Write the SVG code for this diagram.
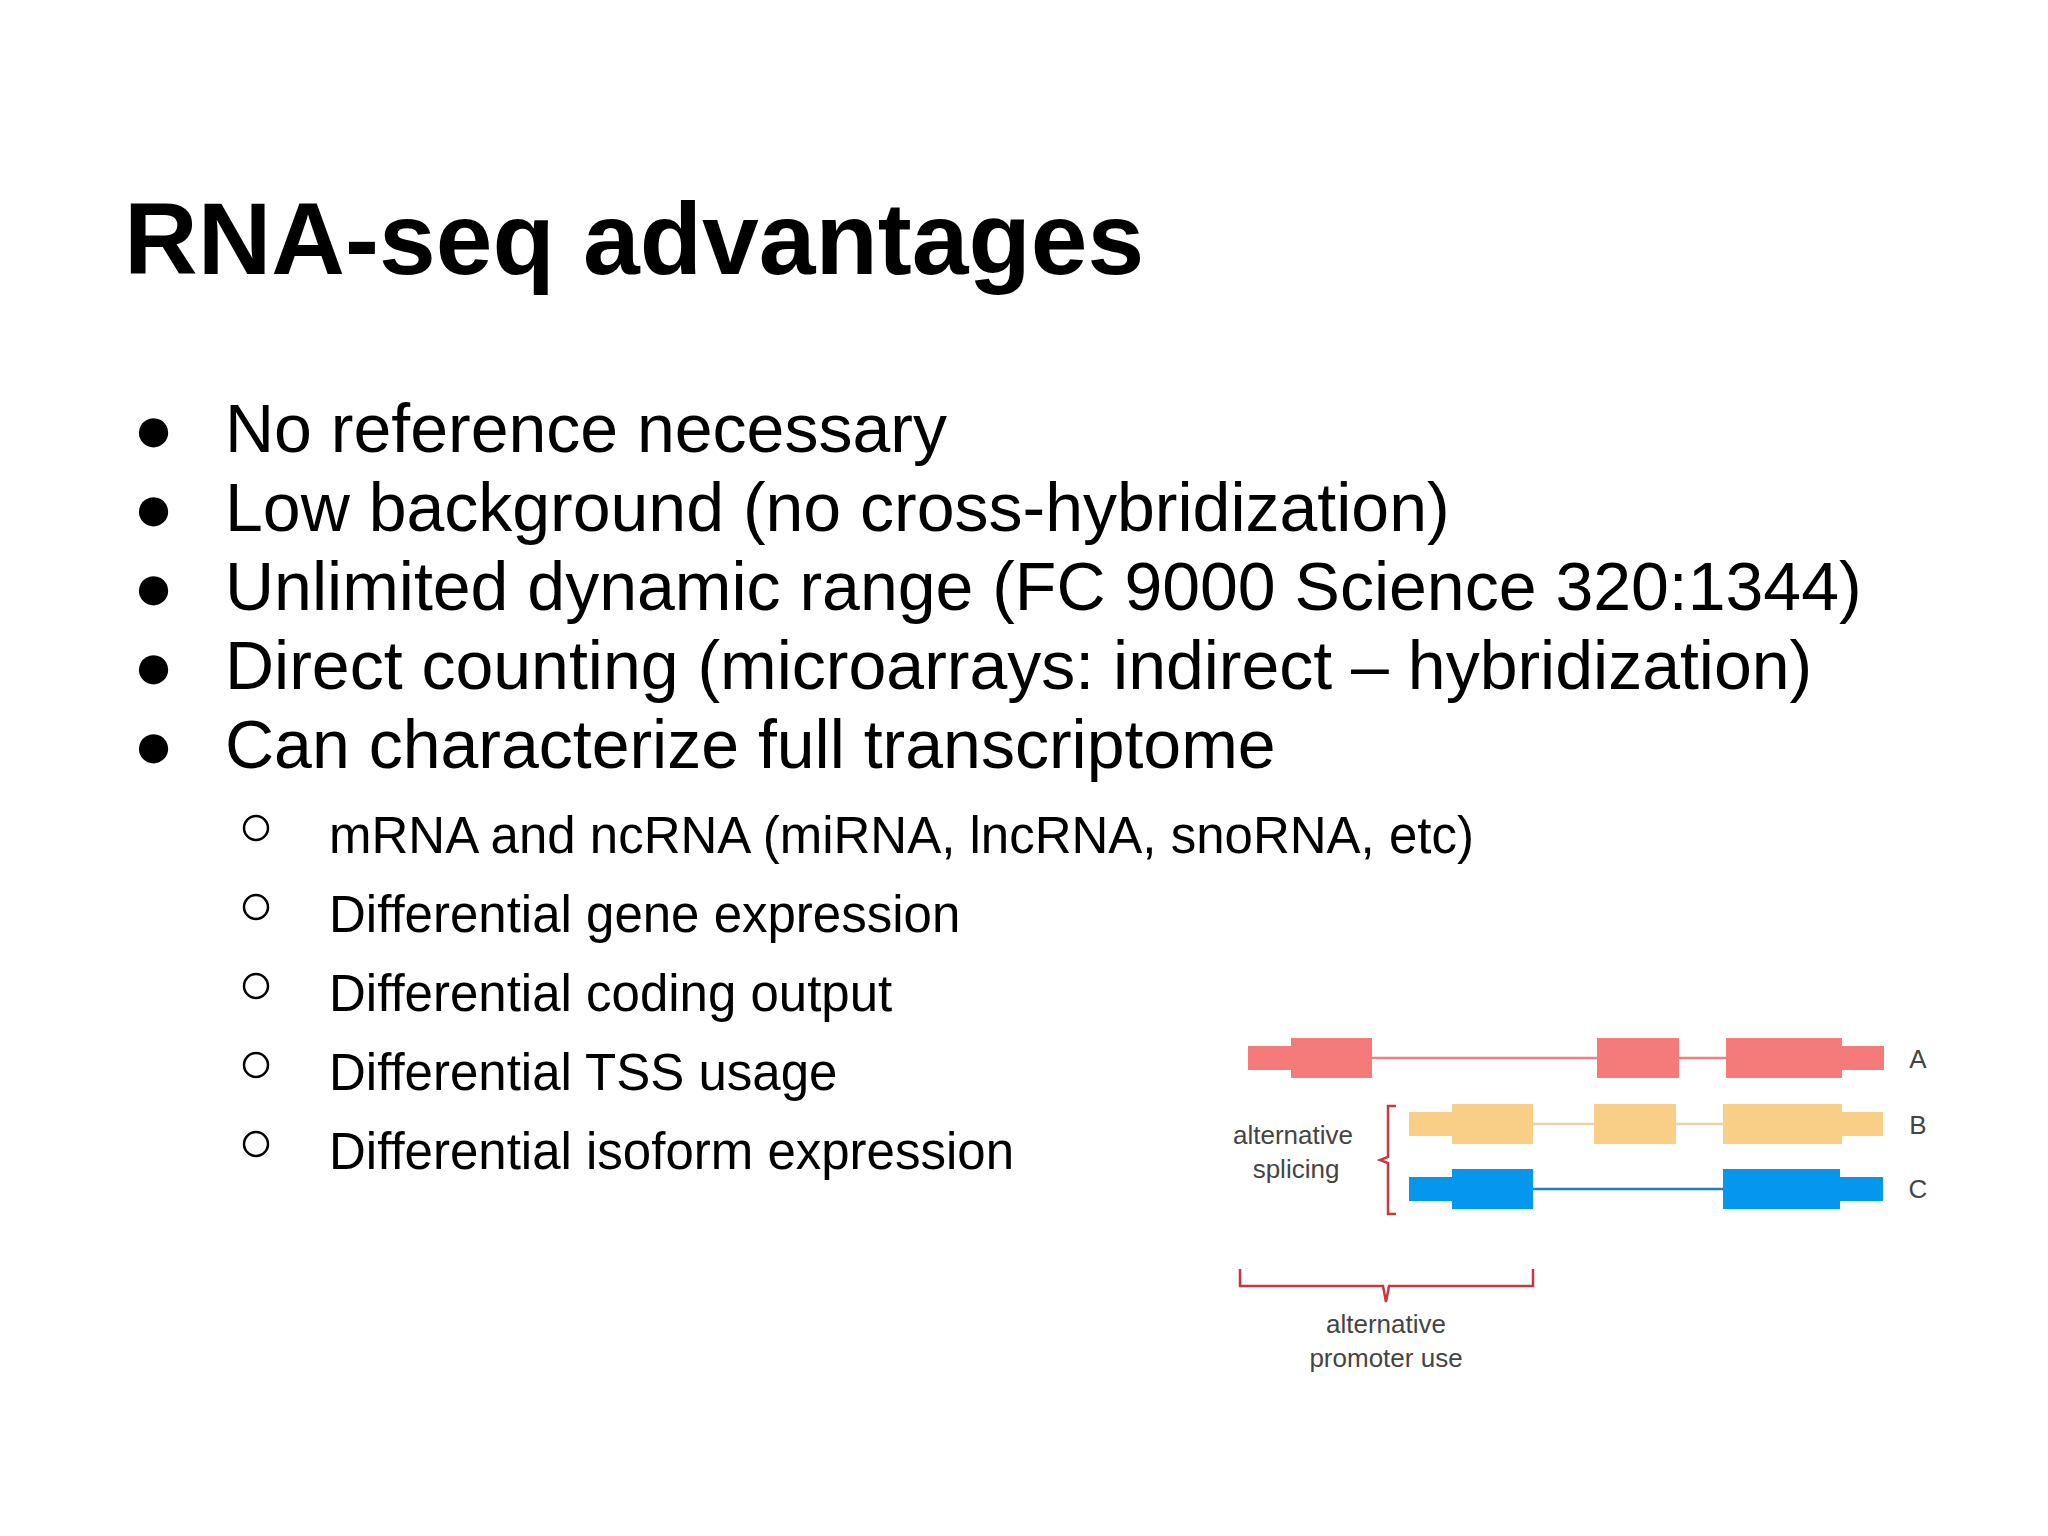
<svg xmlns="http://www.w3.org/2000/svg" width="2048" height="1536" viewBox="0 0 2048 1536">
<style>
.t{font-family:"Liberation Sans",Arial,sans-serif;fill:#000}
.b{font-size:68px}
.s{font-size:51px}
.d{font-family:"Liberation Sans",Arial,sans-serif;fill:#444;font-size:26px;text-anchor:middle}
.br{fill:none;stroke:#c8383c;stroke-width:2.5}
</style>
<rect width="2048" height="1536" fill="#fff"/>
<text class="t" x="124" y="274" font-size="102" font-weight="bold">RNA-seq advantages</text>
<g class="t b">
<text x="133" y="452">●</text><text x="225" y="452">No reference necessary</text>
<text x="133" y="531">●</text><text x="225" y="531">Low background (no cross-hybridization)</text>
<text x="133" y="610">●</text><text x="225" y="610">Unlimited dynamic range (FC 9000 Science 320:1344)</text>
<text x="133" y="689">●</text><text x="225" y="689">Direct counting (microarrays: indirect – hybridization)</text>
<text x="133" y="768">●</text><text x="225" y="768">Can characterize full transcriptome</text>
</g>
<g fill="none" stroke="#000" stroke-width="2.5">
<circle cx="256" cy="828" r="12"/><circle cx="256" cy="907" r="12"/><circle cx="256" cy="986" r="12"/><circle cx="256" cy="1065" r="12"/><circle cx="256" cy="1144" r="12"/>
</g>
<g class="t s">
<text x="329" y="853">mRNA and ncRNA (miRNA, lncRNA, snoRNA, etc)</text>
<text x="329" y="932">Differential gene expression</text>
<text x="329" y="1011">Differential coding output</text>
<text x="329" y="1090">Differential TSS usage</text>
<text x="329" y="1169">Differential isoform expression</text>
</g>
<g id="isoformA" fill="#f57a7a">
<line x1="1370" y1="1058" x2="1730" y2="1058" stroke="#f08080" stroke-width="2.5"/>
<rect x="1248" y="1046" width="45" height="24"/><rect x="1291" y="1038" width="81" height="40"/>
<rect x="1597" y="1038" width="82" height="40"/><rect x="1726" y="1038" width="116" height="40"/>
<rect x="1840" y="1046" width="44" height="24"/>
<text class="d" x="1918" y="1068">A</text>
</g>
<g id="isoformB" fill="#f9cf87">
<line x1="1530" y1="1124" x2="1725" y2="1124" stroke="#e8d2a8" stroke-width="2.5"/>
<rect x="1409" y="1112" width="45" height="24"/><rect x="1452" y="1104" width="81" height="40"/>
<rect x="1594" y="1104" width="82" height="40"/><rect x="1723" y="1104" width="119" height="40"/>
<rect x="1840" y="1112" width="43" height="24"/>
<text class="d" x="1918" y="1134">B</text>
</g>
<g id="isoformC" fill="#0596ee">
<line x1="1530" y1="1189" x2="1725" y2="1189" stroke="#1a7fd0" stroke-width="2.5"/>
<rect x="1409" y="1177" width="45" height="24"/><rect x="1452" y="1169" width="81" height="40"/>
<rect x="1723" y="1169" width="117" height="40"/><rect x="1838" y="1177" width="45" height="24"/>
<text class="d" x="1918" y="1198">C</text>
</g>
<g id="splicing">
<path class="br" d="M1396 1106 H1388 V1157 L1380 1160 L1388 1163 V1214 H1396"/>
<text class="d" x="1293" y="1144">alternative</text>
<text class="d" x="1296" y="1178">splicing</text>
</g>
<g id="promoter">
<path class="br" d="M1240 1269 V1286 H1383 L1386 1302 L1389 1286 H1533 V1269"/>
<text class="d" x="1386" y="1333">alternative</text>
<text class="d" x="1386" y="1367">promoter use</text>
</g>
</svg>
